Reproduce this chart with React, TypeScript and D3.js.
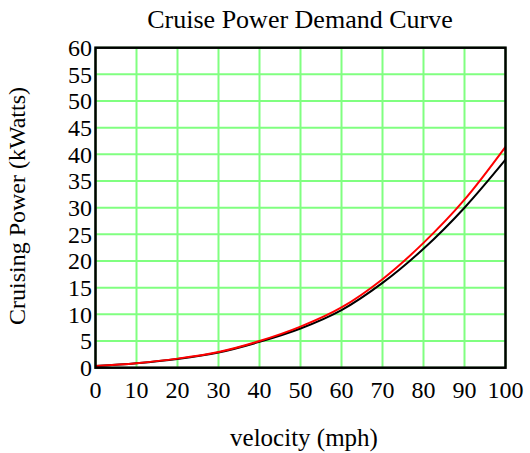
import React from "react";
import * as d3 from "d3";

const velocity = [0, 10, 20, 30, 40, 50, 60, 70, 80, 90, 100];
const powerRed = [0.3, 0.85, 1.7, 2.95, 5.0, 7.7, 11.3, 16.6, 23.4, 31.5, 41.4];
const powerBlack = [0.3, 0.85, 1.65, 2.85, 4.85, 7.35, 10.8, 15.9, 22.3, 30.0, 39.0];
const xTicks = [0, 10, 20, 30, 40, 50, 60, 70, 80, 90, 100];
const yTicks = [0, 5, 10, 15, 20, 25, 30, 35, 40, 45, 50, 55, 60];

const W = 530, H = 453;
const L = 95.5, R = 505.5, T = 47.7, B = 367.7;
const font = "'Liberation Serif', 'Times New Roman', serif";

export default function App() {
  const x = d3.scaleLinear().domain([0, 100]).range([L, R]);
  const y = d3.scaleLinear().domain([0, 60]).range([B, T]);
  const line = (vals: number[]) =>
    d3.line<number>().x((_, i) => x(velocity[i])).y((d) => y(d)).curve(d3.curveCatmullRom)(vals) || "";
  return (
    <svg width={W} height={H} style={{ position: "absolute", left: 0, top: 0, background: "#fff" }}>
      <rect x={0} y={0} width={W} height={H} fill="#fff" />
      {yTicks.map((t) => (
        <line key={"gy" + t} x1={L} x2={R} y1={y(t)} y2={y(t)} stroke="#80ff80" strokeWidth={2} />
      ))}
      {xTicks.map((t) => (
        <line key={"gx" + t} x1={x(t)} x2={x(t)} y1={T} y2={B} stroke="#80ff80" strokeWidth={2} />
      ))}
      <path d={line(powerBlack)} fill="none" stroke="#000" strokeWidth={2} />
      <path d={line(powerRed)} fill="none" stroke="#ff0000" strokeWidth={2} />
      <rect x={L} y={T} width={R - L} height={B - T} fill="none" stroke="#000" strokeWidth={2.5} />
      {yTicks.map((t) => (
        <text key={"ty" + t} x={92} y={y(t)} dy="0.35em" textAnchor="end" fontFamily={font} fontSize={24} fill="#000">
          {t}
        </text>
      ))}
      {xTicks.map((t) => (
        <text key={"tx" + t} x={x(t)} y={398} textAnchor="middle" fontFamily={font} fontSize={24} fill="#000">
          {t}
        </text>
      ))}
      <text x={300} y={28} textAnchor="middle" fontFamily={font} fontSize={26} fill="#000">
        Cruise Power Demand Curve
      </text>
      <text x={304} y={446} textAnchor="middle" fontFamily={font} fontSize={25} fill="#000">
        velocity (mph)
      </text>
      <text transform="translate(25,206) rotate(-90)" textAnchor="middle" fontFamily={font} fontSize={24} fill="#000">
        Cruising Power (kWatts)
      </text>
    </svg>
  );
}
